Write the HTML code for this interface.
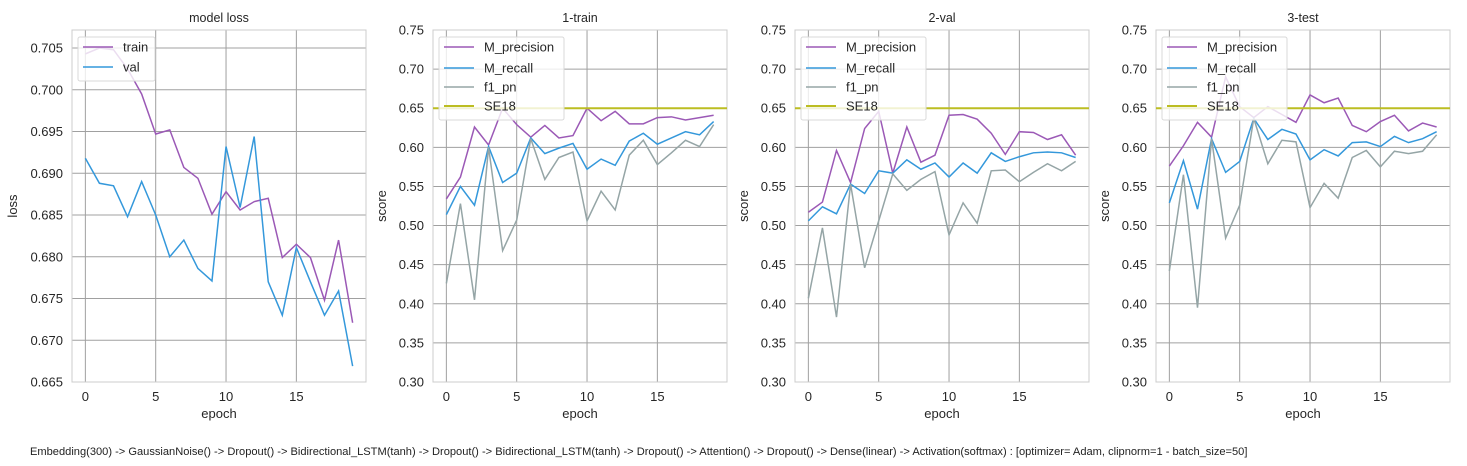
<!DOCTYPE html>
<html><head><meta charset="utf-8"><style>
body{margin:0;background:#fff;}
svg{display:block;font-family:"Liberation Sans",Arial,sans-serif;}
</style></head><body>
<svg id="fig" width="1467" height="466" viewBox="0 0 1467 466" xmlns="http://www.w3.org/2000/svg">
<text x="30" y="455" font-size="11.1" fill="#222">Embedding(300) -&gt; GaussianNoise() -&gt; Dropout() -&gt; Bidirectional_LSTM(tanh) -&gt; Dropout() -&gt; Bidirectional_LSTM(tanh) -&gt; Dropout() -&gt; Attention() -&gt; Dropout() -&gt; Dense(linear) -&gt; Activation(softmax) : [optimizer= Adam, clipnorm=1 - batch_size=50]</text>
</svg>
<script>
const epochs = [0,1,2,3,4,5,6,7,8,9,10,11,12,13,14,15,16,17,18,19];
const xTicks = [0,5,10,15];
const lossTicks = [0.665,0.670,0.675,0.680,0.685,0.690,0.695,0.700,0.705];
const scoreTicks = [0.30,0.35,0.40,0.45,0.50,0.55,0.60,0.65,0.70,0.75];
const lossTrain = [0.7043,0.7050,0.7048,0.7025,0.6995,0.6947,0.6952,0.6907,0.6894,0.6851,0.6878,0.6856,0.6866,0.6870,0.6799,0.6815,0.6799,0.6748,0.6820,0.6721];
const lossVal = [0.6918,0.6888,0.6885,0.6848,0.6890,0.6850,0.6800,0.6820,0.6786,0.6771,0.6932,0.6859,0.6944,0.6770,0.6730,0.6811,0.6770,0.6730,0.6759,0.6669];
const trainPrec = [0.534,0.562,0.626,0.603,0.650,0.629,0.613,0.628,0.612,0.615,0.650,0.634,0.646,0.630,0.630,0.638,0.639,0.635,0.638,0.641];
const trainRec = [0.514,0.550,0.526,0.601,0.555,0.567,0.612,0.592,0.599,0.605,0.572,0.585,0.577,0.608,0.618,0.604,0.612,0.620,0.616,0.633];
const trainF1 = [0.426,0.528,0.405,0.600,0.468,0.507,0.611,0.559,0.587,0.594,0.506,0.544,0.520,0.590,0.609,0.578,0.593,0.609,0.601,0.629];
const valPrec = [0.517,0.530,0.596,0.555,0.624,0.646,0.567,0.626,0.581,0.590,0.641,0.642,0.636,0.618,0.591,0.620,0.619,0.610,0.616,0.590];
const valRec = [0.506,0.524,0.515,0.553,0.541,0.570,0.567,0.584,0.572,0.580,0.562,0.580,0.567,0.593,0.582,0.588,0.593,0.594,0.593,0.587];
const valF1 = [0.407,0.497,0.383,0.553,0.446,0.506,0.566,0.545,0.559,0.569,0.488,0.529,0.503,0.570,0.571,0.556,0.568,0.579,0.570,0.582];
const testPrec = [0.576,0.602,0.632,0.613,0.690,0.652,0.638,0.652,0.642,0.632,0.667,0.657,0.663,0.628,0.620,0.633,0.641,0.621,0.631,0.626];
const testRec = [0.529,0.583,0.521,0.611,0.568,0.582,0.637,0.610,0.623,0.617,0.584,0.597,0.589,0.606,0.607,0.601,0.614,0.606,0.611,0.620];
const testF1 = [0.442,0.565,0.395,0.611,0.484,0.526,0.637,0.579,0.609,0.607,0.523,0.554,0.535,0.587,0.596,0.575,0.595,0.592,0.595,0.616];
const se18 = 0.65;

const NS = "http://www.w3.org/2000/svg";
const svg = document.getElementById('fig');
const C = {prec:'#9b59b6', rec:'#3498db', f1:'#95a5a6', se:'#bcbd22'};
function mk(tag, attrs, parent){const e=document.createElementNS(NS,tag);for(const k in attrs)e.setAttribute(k,attrs[k]);(parent||svg).appendChild(e);return e;}

function panel(cfg){
  const g = mk('g',{});
  
  
  const L=cfg.left, R=cfg.left+294, T=30, B=382;
  const xmin=-0.95, xmax=19.95;
  const sx = v => L + (v-xmin)/(xmax-xmin)*(R-L);
  const sy = v => B - (v-cfg.ymin)/(cfg.ymax-cfg.ymin)*(B-T);
  cfg.yTicks.forEach(t=>{
    const y=sy(t);
    const l=mk('line',{x1:L,x2:R,y1:y,y2:y,stroke:'#a0a0a0','stroke-width':1},g);
    
    
    const tx=mk('text',{x:L-9,y:y+4.5,'font-size':13,'text-anchor':'end',fill:'#262626'},g);
    
    
    tx.textContent=t.toFixed(cfg.dec);
  });
  xTicks.forEach(t=>{
    const x=sx(t);
    const l=mk('line',{x1:x,x2:x,y1:T,y2:B,stroke:'#a0a0a0','stroke-width':1},g);
    
    
    const tx=mk('text',{x:x,y:B+19,'font-size':13,'text-anchor':'middle',fill:'#262626'},g);
    
    
    tx.textContent=t;
  });
  const fr=mk('rect',{x:L,y:T,width:R-L,height:B-T,fill:'none',stroke:'#cccccc','stroke-width':1},g);
  
  
  cfg.series.forEach(s=>{
    let pts;
    if(s.h!==undefined){ pts = `${L},${sy(s.h)} ${R},${sy(s.h)}`; }
    else pts = s.data.map((v,i)=>`${sx(epochs[i])},${sy(v)}`).join(' ');
    const p=mk('polyline',{points:pts,fill:'none',stroke:s.color,'stroke-width':s.h!==undefined?2:1.5},g);
    
    
  });
  const n=cfg.series.length;
  const lw = n===2?77:125;
  const lg=mk('g',{},g);
  
  
  mk('rect',{x:L+6,y:37,width:lw,height:n===2?44:83,rx:2,fill:'#fff','fill-opacity':0.8,stroke:'#d8d8d8'},lg);
  const ys = n===2?[47,67]:[47,68,87,106];
  cfg.series.forEach((s,i)=>{
    mk('line',{x1:L+11,x2:L+41,y1:ys[i],y2:ys[i],stroke:s.color,'stroke-width':s.h!==undefined?2:1.5},lg);
    const t=mk('text',{x:L+51,y:ys[i]+4.5,'font-size':13,fill:'#262626'},lg);
    
    
    t.textContent=s.label;
  });
  const ti=mk('text',{x:(L+R)/2,y:22,'font-size':12.5,'text-anchor':'middle',fill:'#262626'},g);
  
  
  ti.textContent=cfg.title;
  const xl=mk('text',{x:(L+R)/2,y:418,'font-size':13,'text-anchor':'middle',fill:'#262626'},g);
  
  
  xl.textContent='epoch';
  const yl=mk('text',{x:0,y:0,'font-size':13,'text-anchor':'middle',fill:'#262626',transform:`translate(${cfg.ylx},${(T+B)/2}) rotate(-90)`},g);
  
  
  yl.textContent=cfg.ylabel;
}
panel({name:'model-loss-panel',title:'model loss',left:72,ymin:0.66500,ymax:0.70716,yTicks:lossTicks,dec:3,ylabel:'loss',ylx:17,
  series:[{label:'train',data:lossTrain,color:C.prec},{label:'val',data:lossVal,color:C.rec}]});
const mkS=(p,r,f)=>[{label:'M_precision',data:p,color:C.prec},{label:'M_recall',data:r,color:C.rec},{label:'f1_pn',data:f,color:C.f1},{label:'SE18',h:se18,color:C.se}];
panel({name:'train-panel',title:'1-train',left:433,ymin:0.30,ymax:0.75,yTicks:scoreTicks,dec:2,ylabel:'score',ylx:386,series:mkS(trainPrec,trainRec,trainF1)});
panel({name:'val-panel',title:'2-val',left:795,ymin:0.30,ymax:0.75,yTicks:scoreTicks,dec:2,ylabel:'score',ylx:748,series:mkS(valPrec,valRec,valF1)});
panel({name:'test-panel',title:'3-test',left:1156,ymin:0.30,ymax:0.75,yTicks:scoreTicks,dec:2,ylabel:'score',ylx:1109,series:mkS(testPrec,testRec,testF1)});
</script>
</body></html>
